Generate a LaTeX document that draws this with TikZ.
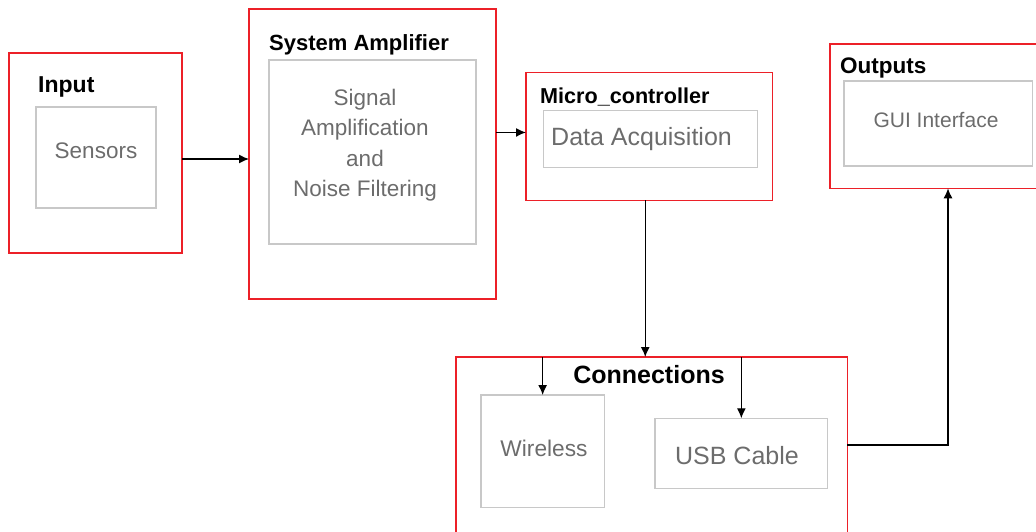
\documentclass[tikz,border=0pt]{standalone}
\usepackage{fontspec}
\setmainfont{Liberation Sans}
\usetikzlibrary{shapes,arrows.meta}
\definecolor{boxred}{RGB}{236,32,40}
\definecolor{innergray}{RGB}{200,200,200}
\definecolor{textgray}{RGB}{108,108,108}
\newcommand{\setfs}[1]{\fontsize{#1}{#1}\selectfont}
\tikzstyle{outer} = [rectangle, draw=boxred, line width=1.3pt,
    anchor=north west, inner sep=0pt, outer sep=0pt]
\tikzstyle{inner} = [rectangle, draw=innergray, line width=1.3pt,
    anchor=north west, inner sep=0pt, outer sep=0pt]
\tikzstyle{title} = [inner sep=0pt, anchor=base west]
\tikzstyle{gtext} = [inner sep=0pt, anchor=base, text=textgray]
\tikzstyle{line} = [draw, line width=1.3pt, -{Latex[length=10pt,width=9pt]}]
\begin{document}
\begin{tikzpicture}[x=1pt, y=-1pt]
 \useasboundingbox (0,0) rectangle (1036,531);
 \clip (0,0) rectangle (1036,531);
 % Place nodes
   \node[outer, minimum width=173pt, minimum height=200pt] (input) at (9,53) {};
   \node[inner, minimum width=120pt, minimum height=101pt] (sensors) at (36,107) {};
   \node[title, font=\bfseries\setfs{23}] (inputlbl) at (38,92) {Input};
   \node[gtext, font=\setfs{22.5}] (sensorstxt) at (96,158.3) {Sensors};

   \node[outer, minimum width=247pt, minimum height=290pt] (amp) at (249,9) {};
   \node[inner, minimum width=207pt, minimum height=184pt] (filter) at (269,60) {};
   \node[title, font=\bfseries\setfs{22}] (amplbl) at (269,50.7) {System Amplifier};
   \node[inner sep=0pt, text=textgray, align=center,
     font=\fontsize{22.5}{30.5}\selectfont] (filtertxt) at (365,145)
     {Signal\\Amplification\\and\\Noise Filtering};

   \node[outer, minimum width=246.5pt, minimum height=127.5pt] (micro) at (526,72.7) {};
   \node[inner, minimum width=214pt, minimum height=56.6pt] (daq) at (543.3,110.7) {};
   \node[title, font=\bfseries\setfs{21.6}] (microlbl) at (540,103.3) {Micro\_controller};
   \node[gtext, anchor=base west, font=\setfs{25}] (daqtxt) at (551,145.7) {Data Acquisition};

   \node[outer, minimum width=236pt, minimum height=144.3pt] (outputs) at (830,44) {};
   \node[inner, minimum width=188.3pt, minimum height=85pt] (gui) at (844,81) {};
   \node[title, font=\bfseries\setfs{22.5}] (outputslbl) at (840,73.3) {Outputs};
   \node[gtext, font=\setfs{21}] (guitxt) at (936,127.3) {GUI Interface};

   \node[outer, minimum width=391.3pt, minimum height=176pt] (conn) at (456,357) {};
   \node[title, anchor=base, font=\bfseries\setfs{25}] (connlbl) at (649,383.3) {Connections};
   \node[inner, minimum width=123.3pt, minimum height=112.3pt] (wireless) at (481,395) {};
   \node[gtext, font=\setfs{22.7}] (wirelesstxt) at (544,456.7) {Wireless};
   \node[inner, minimum width=172.7pt, minimum height=70pt] (usb) at (655,418.3) {};
   \node[gtext, font=\setfs{25}] (usbtxt) at (737,464) {USB Cable};

 % Draw edges
   \path [line] ([yshift=-6pt]input.east) -- ([yshift=-6pt]input.east -| amp.west);
   \path [line] ([yshift=4pt]micro.west -| amp.east) -- ([yshift=4pt]micro.west);
   \path [line] ([xshift=-4pt]micro.south) -- ([xshift=-4pt]micro.south |- conn.north);
   \path [line] (wireless.north |- conn.north) -- (wireless.north);
   \path [line] (usb.north |- conn.north) -- (usb.north);
   \path [line] (conn.east) -| (outputs.south);
\end{tikzpicture}
\end{document}
